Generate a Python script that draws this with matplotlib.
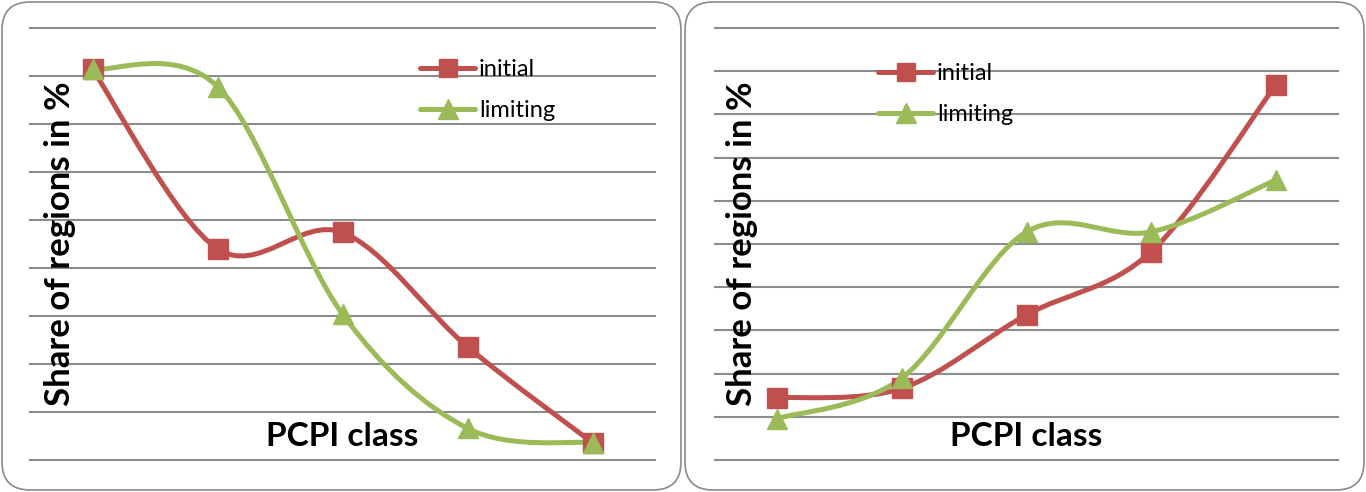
import numpy as np
import matplotlib.pyplot as plt
from matplotlib.path import Path
from matplotlib.patches import PathPatch, FancyBboxPatch
from matplotlib.lines import Line2D

plt.rcParams['font.family'] = ['Lato', 'DejaVu Sans']

# data (share of regions in %, per PCPI class)
pcpi_class = [1, 2, 3, 4, 5]
left_initial = [40.7, 22.0, 23.7, 11.8, 1.8]
left_limiting = [40.7, 38.9, 15.2, 3.3, 1.8]
right_initial = [7.2, 8.3, 16.8, 24.1, 43.4]
right_limiting = [4.8, 9.5, 26.4, 26.4, 32.4]

RED = '#C0504D'
GREEN = '#9BBB59'
GRID = '#8C8C8C'

W, H = 1366, 492
fig = plt.figure(figsize=(W / 100, H / 100), dpi=100)


def px_rect(x0, y0, x1, y1):
    return [x0 / W, 1 - y1 / H, (x1 - x0) / W, (y1 - y0) / H]


def smooth_path(xs, ys):
    # Excel-like smoothed line: cubic bezier through the points
    pts = np.column_stack([xs, ys]).astype(float)
    n = len(pts)
    verts = [pts[0]]
    codes = [Path.MOVETO]
    for i in range(n - 1):
        p0 = pts[max(i - 1, 0)]
        p1 = pts[i]
        p2 = pts[i + 1]
        p3 = pts[min(i + 2, n - 1)]
        verts += [p1 + (p2 - p0) / 6, p2 - (p3 - p1) / 6, p2]
        codes += [Path.CURVE4] * 3
    return Path(verts, codes)


def panel(rect, initial, limiting, ymax, ylab_x, legend_xy):
    ax = fig.add_axes(rect)
    ax.set_facecolor('none')
    x = np.arange(len(pcpi_class))
    ax.set_xlim(-0.5, len(pcpi_class) - 0.5)
    ax.set_ylim(0, ymax)
    ax.set_yticks(np.arange(0, ymax + 1, 5))
    ax.set_xticks([])
    ax.tick_params(length=0, labelleft=False)
    ax.grid(axis='y', color=GRID, lw=1.5)
    ax.set_axisbelow(True)
    for gl in ax.get_ygridlines():
        gl.set_clip_on(False)
    for s in ax.spines.values():
        s.set_visible(False)

    for vals, col, mk, ms in [(initial, RED, 's', 14), (limiting, GREEN, '^', 15)]:
        ax.add_patch(PathPatch(smooth_path(x, vals), facecolor='none', edgecolor=col,
                               lw=3.6, capstyle='round', joinstyle='round', clip_on=False))
        ax.plot(x, vals, ls='none', marker=mk, ms=ms, color=col, clip_on=False)

    handles = [Line2D([], [], color=RED, lw=3.6, marker='s', ms=13, solid_capstyle='round'),
               Line2D([], [], color=GREEN, lw=3.6, marker='^', ms=14, solid_capstyle='round')]
    fig.legend(handles, ['initial', 'limiting'], loc='upper left',
               bbox_to_anchor=(legend_xy[0] / W, 1 - legend_xy[1] / H),
               frameon=False, fontsize=17, handlelength=2.35, handletextpad=0.15,
               labelspacing=0.85, borderpad=0, borderaxespad=0, numpoints=1)

    fig.text(ylab_x / W, 1 - 244 / H, 'Share of regions in %', rotation=90,
             ha='center', va='center', fontsize=25, fontweight='bold')
    cx = (rect[0] + rect[2] / 2)
    fig.text(cx, 1 - 437 / H, 'PCPI class', ha='center', va='center',
             fontsize=24, fontweight='bold')
    return ax


# rounded frames around each chart
for x0 in (2, 685):
    fig.patches.append(FancyBboxPatch((x0 / 100, 0.02), 6.79, 4.88,
                                      boxstyle='round,pad=0,rounding_size=0.28',
                                      transform=fig.dpi_scale_trans, zorder=-1,
                                      facecolor='white', edgecolor='#8a8a8a', lw=1.2))

panel(px_rect(30, 28, 655, 460), left_initial, left_limiting, 45, 60, (420, 59))
panel(px_rect(715, 28, 1338, 460), right_initial, right_limiting, 50, 742, (878, 63))

fig.savefig('out.png', dpi=100)
